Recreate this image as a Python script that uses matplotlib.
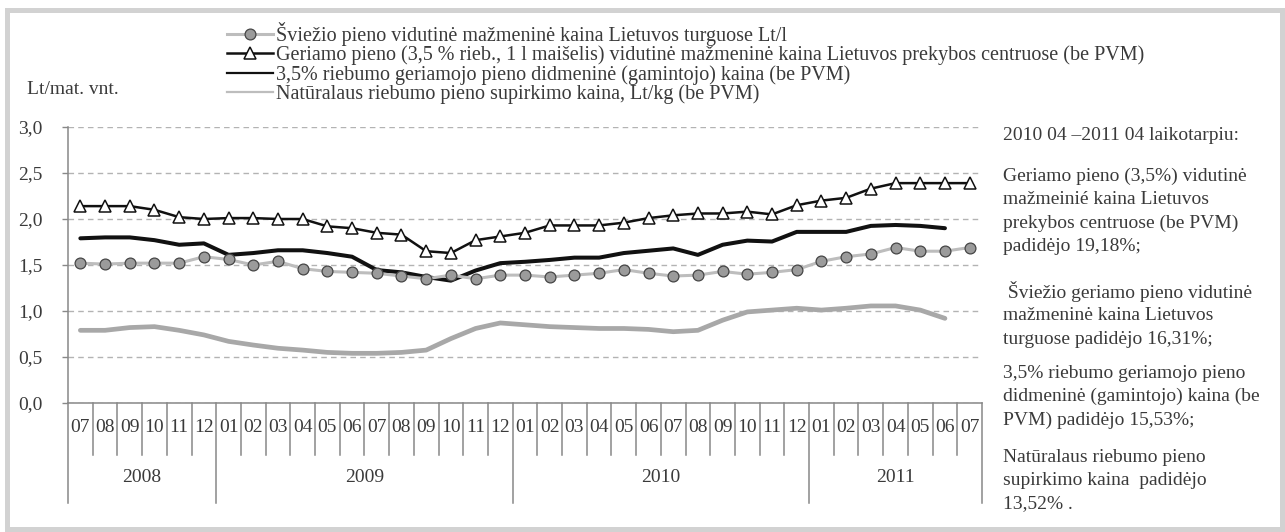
import numpy as np
import matplotlib.pyplot as plt
from matplotlib.lines import Line2D
from matplotlib.patches import Rectangle

plt.rcParams["font.family"] = ["Liberation Serif", "DejaVu Serif"]

W, H = 1285, 532

# ------------------------------------------------------------------
# Data, 2008-07 ... 2011-07
# ------------------------------------------------------------------
months = ["07", "08", "09", "10", "11", "12",
          "01", "02", "03", "04", "05", "06", "07", "08", "09", "10", "11", "12",
          "01", "02", "03", "04", "05", "06", "07", "08", "09", "10", "11", "12",
          "01", "02", "03", "04", "05", "06", "07"]
years = ["2008", "2009", "2010", "2011"]
year_lengths = [6, 12, 12, 7]

fresh_market = [1.52, 1.51, 1.52, 1.52, 1.52, 1.59, 1.56, 1.50, 1.54, 1.46,
                1.43, 1.42, 1.41, 1.38, 1.35, 1.39, 1.35, 1.39, 1.39, 1.37,
                1.39, 1.41, 1.45, 1.41, 1.38, 1.39, 1.43, 1.40, 1.42, 1.45,
                1.54, 1.59, 1.62, 1.69, 1.65, 1.65, 1.69]
retail_centres = [2.14, 2.14, 2.14, 2.10, 2.02, 2.00, 2.01, 2.01, 2.00, 2.00,
                  1.92, 1.90, 1.85, 1.83, 1.65, 1.63, 1.77, 1.81, 1.85, 1.93,
                  1.93, 1.93, 1.96, 2.01, 2.04, 2.06, 2.06, 2.08, 2.05, 2.15,
                  2.20, 2.23, 2.33, 2.39, 2.39, 2.39, 2.39]
wholesale = [1.79, 1.80, 1.80, 1.77, 1.72, 1.735, 1.61, 1.63, 1.66, 1.66,
             1.63, 1.59, 1.445, 1.42, 1.37, 1.33, 1.44, 1.52, 1.535, 1.555,
             1.58, 1.58, 1.63, 1.655, 1.68, 1.61, 1.72, 1.765, 1.755, 1.86,
             1.86, 1.86, 1.925, 1.935, 1.925, 1.90]
purchase = [0.79, 0.79, 0.82, 0.83, 0.79, 0.74, 0.67, 0.63, 0.595, 0.575,
            0.55, 0.54, 0.54, 0.55, 0.575, 0.70, 0.81, 0.87, 0.85, 0.83,
            0.82, 0.81, 0.81, 0.80, 0.775, 0.79, 0.90, 0.99, 1.01, 1.03,
            1.01, 1.03, 1.055, 1.055, 1.01, 0.92]

yticks = [0.0, 0.5, 1.0, 1.5, 2.0, 2.5, 3.0]
ytick_labels = ["0,0", "0,5", "1,0", "1,5", "2,0", "2,5", "3,0"]

labels = [
    "Šviežio pieno vidutinė mažmeninė kaina Lietuvos turguose Lt/l",
    "Geriamo pieno (3,5 % rieb., 1 l maišelis) vidutinė mažmeninė kaina Lietuvos prekybos centruose (be PVM)",
    "3,5% riebumo geriamojo pieno didmeninė (gamintojo) kaina (be PVM)",
    "Natūralaus riebumo pieno supirkimo kaina, Lt/kg (be PVM)",
]

notes = [
    ["2010 04 –2011 04 laikotarpiu:"],
    ["Geriamo pieno (3,5%) vidutinė", "mažmeinié kaina Lietuvos",
     "prekybos centruose (be PVM)", "padidėjo 19,18%;"],
    [" Šviežio geriamo pieno vidutinė", "mažmeninė kaina Lietuvos",
     "turguose padidėjo 16,31%;"],
    ["3,5% riebumo geriamojo pieno", "didmeninė (gamintojo) kaina (be",
     "PVM) padidėjo 15,53%;"],
    ["Natūralaus riebumo pieno", "supirkimo kaina  padidėjo", "13,52% ."],
]
note_tops = [136, 176, 292, 373, 457]   # pixel rows of first line in each paragraph

TXT = "#3a3a3a"
FS = 14
FS_LEG = 14.5

# ------------------------------------------------------------------
# Figure
# ------------------------------------------------------------------
fig = plt.figure(figsize=(W / 100, H / 100), dpi=100)
ax_l, ax_r, ax_t, ax_b = 68, 982, 127, 403
ax = fig.add_axes([ax_l / W, 1 - ax_b / H, (ax_r - ax_l) / W, (ax_b - ax_t) / H])

n = len(months)
x = np.arange(n) + 0.5

ax.plot(x, fresh_market, color="#bdbdbd", lw=2.2, marker="o", ms=7.8,
        mfc="#9b9b9b", mec="#454545", mew=0.9, zorder=3)
ax.plot(x, retail_centres, color="#111111", lw=1.8, marker="^", ms=8.5,
        mfc="white", mec="#111111", mew=1.1, zorder=4)
ax.plot(x[:len(wholesale)], wholesale, color="#111111", lw=2.9,
        solid_joinstyle="round", solid_capstyle="round", zorder=2)
ax.plot(x[:len(purchase)], purchase, color="#a8a8a8", lw=3.4,
        solid_joinstyle="round", solid_capstyle="round", zorder=2)

ax.set_xlim(0, n)
ax.set_ylim(0, 3.0)
ax.set_yticks(yticks)
ax.set_yticklabels(ytick_labels, fontsize=FS, color=TXT)
ax.tick_params(axis="y", direction="out", length=4.5, width=1, color="#888888", pad=14)
ax.set_xticks([])
ax.yaxis.grid(True, linestyle=(0, (4, 3)), color="#b3b3b3", lw=1)
ax.set_axisbelow(True)
for s in ["top", "right"]:
    ax.spines[s].set_visible(False)
for s in ["left", "bottom"]:
    ax.spines[s].set_color("#888888")
    ax.spines[s].set_linewidth(1.1)

# category axis: month cells and year groups below the plot
tr = ax.get_xaxis_transform()
ax_h = ax_b - ax_t
month_drop = -(455 - ax_b) / ax_h
year_drop = -(503 - ax_b) / ax_h
year_edges = np.concatenate([[0], np.cumsum(year_lengths)])
for b in range(n + 1):
    low = year_drop if b in year_edges else month_drop
    ax.plot([b, b], [0, low], transform=tr, color="#888888", lw=1.1, clip_on=False)
for xi, m in zip(x, months):
    ax.text(xi, -(428 - ax_b) / ax_h, m, transform=tr, ha="center", va="center",
            fontsize=FS, color=TXT)
for y0, y1, yr in zip(year_edges[:-1], year_edges[1:], years):
    ax.text((y0 + y1) / 2, -(478 - ax_b) / ax_h, yr, transform=tr, ha="center",
            va="center", fontsize=FS, color=TXT)

# legend
handles = [
    Line2D([], [], color="#bdbdbd", lw=2.2, marker="o", ms=7.8, mfc="#9b9b9b", mec="#454545", mew=0.9),
    Line2D([], [], color="#111111", lw=1.8, marker="^", ms=8.5, mfc="white", mec="#111111", mew=1.1),
    Line2D([], [], color="#111111", lw=1.6),
    Line2D([], [], color="#bdbdbd", lw=1.6),
]
leg = fig.legend(handles, labels, loc="upper left", bbox_to_anchor=(227 / W, 1 - 22 / H),
                 frameon=False, fontsize=FS_LEG, handlelength=2.3, handletextpad=0.12,
                 labelspacing=-0.02, borderpad=0, borderaxespad=0)
for t in leg.get_texts():
    t.set_color(TXT)

fig.text(27 / W, 1 - 89 / H, "Lt/mat. vnt.", ha="left", va="center", fontsize=FS, color=TXT)

# notes on the right
step = 23.5
for top, para in zip(note_tops, notes):
    for k, line in enumerate(para):
        fig.text(1003 / W, 1 - (top + k * step) / H, line, ha="left", va="center",
                 fontsize=FS, color=TXT)

# gray frame
fig.patches.append(Rectangle((7 / W, 3 / H), 1275 / W, 519.5 / H, transform=fig.transFigure,
                             fill=False, ec="#d2d2d2", lw=3.6))

fig.savefig("out.png", dpi=100)
